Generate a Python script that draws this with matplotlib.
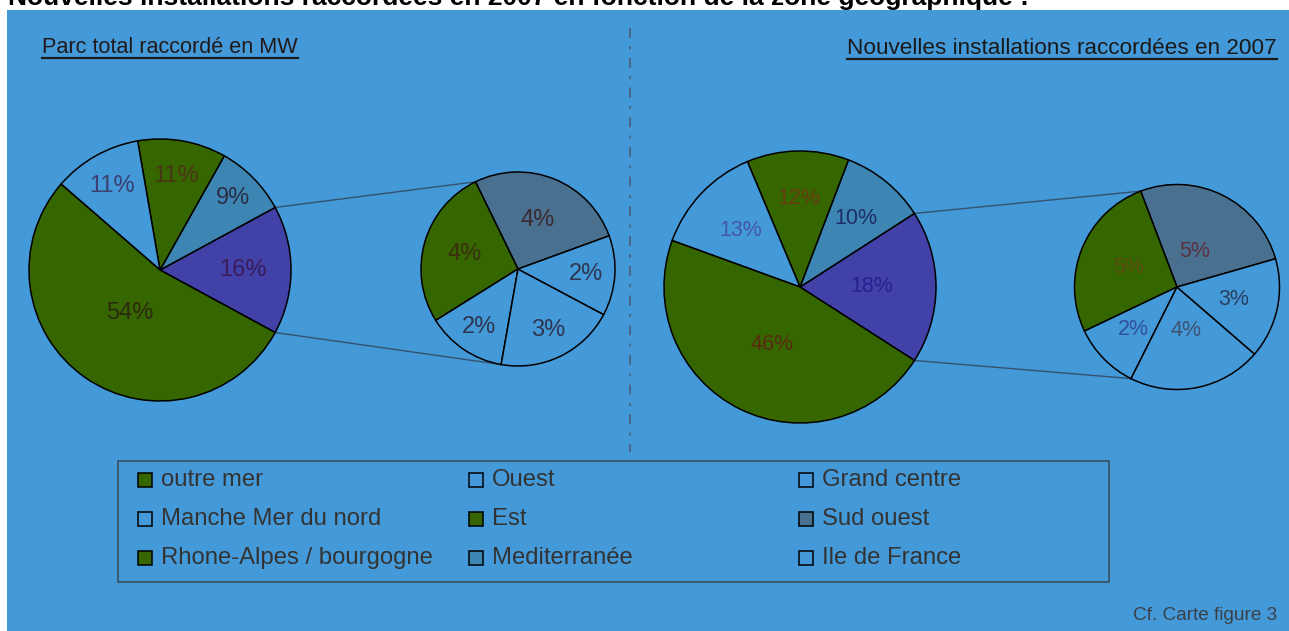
import matplotlib
matplotlib.use('Agg')
import matplotlib.pyplot as plt
from matplotlib.patches import Rectangle
import numpy as np

plt.rcParams['lines.scale_dashes'] = False
plt.rcParams['font.family'] = ['Liberation Sans', 'DejaVu Sans']

# ---------------- data ----------------
main_labels = ['Autres', 'Mediterranée', 'Rhone-Alpes / bourgogne', 'Manche Mer du nord', 'outre mer']
sub_labels = ['Sud ouest', 'Est', 'Ouest', 'Grand centre', 'Ile de France']

total_main_values = [16, 9, 11, 11, 54]   # Parc total raccordé en MW (%)
total_sub_values = [4, 4, 2, 3, 2]
new_main_values = [18, 10, 12, 13, 46]    # Nouvelles installations 2007 (%)
new_sub_values = [5, 5, 2, 4, 3]

legend_labels = ['outre mer', 'Ouest', 'Grand centre',
                 'Manche Mer du nord', 'Est', 'Sud ouest',
                 'Rhone-Alpes / bourgogne', 'Mediterranée', 'Ile de France']

title_left = 'Parc total raccordé en MW'
title_right = 'Nouvelles installations raccordées en 2007'
page_title = 'Nouvelles installations raccordées en 2007 en fonction de la zone géographique :'
note = 'Cf. Carte figure 3'

# ---------------- styles ----------------
W, H = 1289, 631
BG = '#4499d8'
GREEN = '#356600'
PURPLE = '#4141a8'
STEEL = '#3d86b3'
SLATE = '#4a7090'
EMPTY = BG
region_colors = {'outre mer': GREEN, 'Est': GREEN, 'Rhone-Alpes / bourgogne': GREEN,
                 'Ouest': EMPTY, 'Grand centre': EMPTY, 'Manche Mer du nord': EMPTY,
                 'Ile de France': EMPTY, 'Sud ouest': SLATE, 'Mediterranée': STEEL,
                 'Autres': PURPLE}

fig = plt.figure(figsize=(W / 100, H / 100), dpi=100)
fig.patch.set_facecolor('white')
ax = fig.add_axes([0, 0, 1, 1])


def Y(y):
    return H - y


# page title (cropped at top, as in the source page) and blue panel
ax.text(8, Y(5), page_title, fontsize=19, fontweight='bold', color='black',
        va='baseline', ha='left', zorder=0)
ax.add_patch(Rectangle((7, 0), W - 7, H - 10, facecolor=BG, edgecolor='none', zorder=0.5))

# separator
ax.plot([630, 630], [Y(28), Y(452)], color='#4a6585', lw=1.44,
        linestyle=(0, (7.2, 6.0, 2.2, 6.0)), zorder=1)


def draw_pie(values, labels, cx, cy, r, start, dists, lcolors, fs):
    wedges, _ = ax.pie(values, colors=[region_colors[l] for l in labels],
                       startangle=start, counterclock=True, center=(cx, Y(cy)),
                       radius=r, frame=True,
                       wedgeprops=dict(edgecolor='black', linewidth=1.1, zorder=3))
    for w, v, d, c in zip(wedges, values, dists, lcolors):
        w.set_zorder(3)
        a = np.deg2rad((w.theta1 + w.theta2) / 2)
        ax.text(cx + d * r * np.cos(a), Y(cy) + d * r * np.sin(a), f'{v}%',
                ha='center', va='center', fontsize=fs, color=c, zorder=4)
    return wedges


def connect(wm, cm, rm, ws, cs, rs):
    up_m = np.deg2rad(wm[0].theta2)
    lo_m = np.deg2rad(wm[0].theta1)
    up_s = np.deg2rad(ws[0].theta2)
    lo_s = np.deg2rad(ws[2].theta2)
    for am, as_ in ((up_m, up_s), (lo_m, lo_s)):
        ax.plot([cm[0] + rm * np.cos(am), cs[0] + rs * np.cos(as_)],
                [Y(cm[1]) + rm * np.sin(am), Y(cs[1]) + rs * np.sin(as_)],
                color='#34536e', lw=1.0, zorder=2)


# left pies
wl = draw_pie(total_main_values, main_labels, 160, 270, 131, -28.5,
              [0.63, 0.78, 0.73, 0.74, 0.40],
              ['#3a1d5a', '#2a2e45', '#4a3515', '#3b4070', '#2b2a10'], 17)
wls = draw_pie(total_sub_values, sub_labels, 518, 269, 97, 20,
               [0.55, 0.57, 0.72, 0.70, 0.70],
               ['#3a2a30', '#3a3010', '#2e3550', '#2e3550', '#2e3550'], 17)
connect(wl, (160, 270), 131, wls, (518, 269), 97)

# right pies
wr = draw_pie(new_main_values, main_labels, 800, 287, 136, -32.7,
              [0.53, 0.65, 0.65, 0.60, 0.47],
              ['#2a1e90', '#1d2d6a', '#6a3a10', '#4656a8', '#5a2a10'], 15.5)
wrs = draw_pie(new_sub_values, sub_labels, 1177, 287, 102.5, 16,
               [0.39, 0.51, 0.59, 0.43, 0.57],
               ['#5a3040', '#5a4a10', '#3050a0', '#405070', '#2a4060'], 15.5)
connect(wr, (800, 287), 136, wrs, (1177, 287), 102.5)

# titles
tl = ax.text(42, Y(53), title_left, fontsize=15.6, color='#221a1a', ha='left', va='baseline', zorder=4)
tr = ax.text(1277, Y(54), title_right, fontsize=16.2, color='#1a1a1a', ha='right', va='baseline', zorder=4)

# legend
ax.add_patch(Rectangle((118, Y(582)), 991, 121, fill=False, edgecolor='#3a4855', lw=1.1, zorder=2))
col_x = [138, 469, 799]
row_y = [480, 519, 558]
for i, lab in enumerate(legend_labels):
    r_, c_ = divmod(i, 3)
    x, y = col_x[c_], row_y[r_]
    ax.add_patch(Rectangle((x, Y(y) - 7), 14, 14, facecolor=region_colors[lab],
                           edgecolor='black', lw=1.1, zorder=3))
    ax.text(x + 23, Y(y), lab, fontsize=17.2, color='#333333', ha='left', va='center', zorder=3)

# note
ax.text(1277, Y(615), note, fontsize=13.7, color='#3a4048', ha='right', va='center', zorder=3)

ax.set_xlim(0, W)
ax.set_ylim(0, H)
ax.set_aspect('auto')
ax.axis('off')

# underline titles
fig.canvas.draw()
inv = ax.transData.inverted()
for t, uy in ((tl, 57.5), (tr, 58.5)):
    bb = t.get_window_extent()
    (x0, _), (x1, _) = inv.transform([(bb.x0, bb.y0), (bb.x1, bb.y1)])
    ax.plot([x0, x1], [Y(uy), Y(uy)], color='#1a1a1a', lw=1.6, zorder=4)

fig.savefig('out.png', dpi=100, facecolor='white')
